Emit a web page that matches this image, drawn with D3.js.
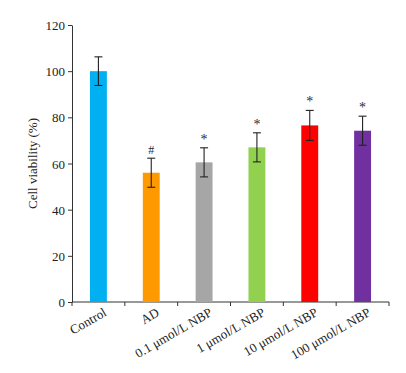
<!DOCTYPE html>
<html lang="en">
<head>
  <meta charset="UTF-8">
  <title>Cell viability</title>
  <style>
    body {
      margin: 0;
      padding: 0;
      background-color: #ffffff;
    }
    svg text {
      font-family: "Liberation Serif", "Times New Roman", serif;
      fill: #222;
    }
  </style>
  <script src="https://d3js.org/d3.v7.min.js"></script>
</head>
<body>
  <div id="chart"></div>
  <script>
    const groups = ["Control", "AD", "0.1 \u03bcmol/L NBP", "1 \u03bcmol/L NBP", "10 \u03bcmol/L NBP", "100 \u03bcmol/L NBP"];
    const viability = [100, 56, 60.5, 67, 76.5, 74.2];
    const errors = [6.2, 6.3, 6.3, 6.3, 6.5, 6.3];
    const marks = ["", "#", "*", "*", "*", "*"];
    const colors = ["#00b0f0", "#ff9900", "#a6a6a6", "#92d050", "#ff0000", "#7030a0"];
    const yTicks = [0, 20, 40, 60, 80, 100, 120];

    const width = 406;
    const height = 373;
    const margin = { top: 25, right: 17, bottom: 71, left: 72 };

    const svg = d3.select("#chart")
      .append("svg")
      .attr("width", width)
      .attr("height", height);

    const x = d3.scaleBand()
      .domain(groups)
      .range([margin.left, width - margin.right])
      .paddingInner(0.68)
      .paddingOuter(0.34);

    const y = d3.scaleLinear()
      .domain([0, 120])
      .range([height - margin.bottom, margin.top]);

    // y axis
    const yAxis = svg.append("g")
      .attr("transform", `translate(${margin.left},0)`)
      .call(d3.axisLeft(y).tickValues(yTicks).tickSize(4).tickSizeOuter(0));
    yAxis.select(".domain").attr("stroke", "#333");
    yAxis.selectAll(".tick line").attr("stroke", "#333");
    yAxis.selectAll(".tick text")
      .attr("font-size", 13)
      .attr("x", -7)
      .attr("dy", "0.35em");

    // x axis line with ticks between groups
    const base = y(0);
    const step = x.step();
    const edges = d3.range(groups.length + 1).map(i => margin.left + i * step);
    svg.append("line")
      .attr("x1", margin.left).attr("x2", edges[edges.length - 1])
      .attr("y1", base).attr("y2", base)
      .attr("stroke", "#333");
    svg.selectAll(".xtick")
      .data(edges)
      .enter()
      .append("line")
      .attr("x1", d => d).attr("x2", d => d)
      .attr("y1", base).attr("y2", base + 4)
      .attr("stroke", "#333");

    // bars
    svg.selectAll(".bar")
      .data(groups)
      .enter()
      .append("rect")
      .attr("x", d => x(d))
      .attr("width", x.bandwidth())
      .attr("y", (d, i) => y(viability[i]))
      .attr("height", (d, i) => base - y(viability[i]))
      .attr("fill", (d, i) => colors[i]);

    // error bars
    const cap = 4;
    const err = svg.selectAll(".err")
      .data(groups)
      .enter()
      .append("g")
      .attr("stroke", "#222")
      .attr("stroke-width", 1.1);
    err.append("line")
      .attr("x1", d => x(d) + x.bandwidth() / 2)
      .attr("x2", d => x(d) + x.bandwidth() / 2)
      .attr("y1", (d, i) => y(viability[i] + errors[i]))
      .attr("y2", (d, i) => y(viability[i] - errors[i]));
    err.append("line")
      .attr("x1", d => x(d) + x.bandwidth() / 2 - cap)
      .attr("x2", d => x(d) + x.bandwidth() / 2 + cap)
      .attr("y1", (d, i) => y(viability[i] + errors[i]))
      .attr("y2", (d, i) => y(viability[i] + errors[i]));
    err.append("line")
      .attr("x1", d => x(d) + x.bandwidth() / 2 - cap)
      .attr("x2", d => x(d) + x.bandwidth() / 2 + cap)
      .attr("y1", (d, i) => y(viability[i] - errors[i]))
      .attr("y2", (d, i) => y(viability[i] - errors[i]));

    // significance marks
    svg.selectAll(".mark")
      .data(groups)
      .enter()
      .append("text")
      .attr("x", d => x(d) + x.bandwidth() / 2)
      .attr("y", (d, i) => y(viability[i] + errors[i]) - (marks[i] === "#" ? 4 : 4))
      .attr("text-anchor", "middle")
      .attr("font-size", (d, i) => marks[i] === "#" ? 12 : 14)
      .style("fill", "#1f2a44")
      .text((d, i) => marks[i]);

    // category labels, rotated
    svg.selectAll(".xlabel")
      .data(groups)
      .enter()
      .append("text")
      .attr("text-anchor", "end")
      .attr("font-size", 13)
      .attr("transform", d => `translate(${x(d) + x.bandwidth() / 2 + 9},${base + 13}) rotate(-30)`)
      .text(d => d);

    // y label
    svg.append("text")
      .attr("transform", `translate(37,${y(60)}) rotate(-90)`)
      .attr("text-anchor", "middle")
      .attr("font-size", 13)
      .text("Cell viability (%)");
  </script>
</body>
</html>
